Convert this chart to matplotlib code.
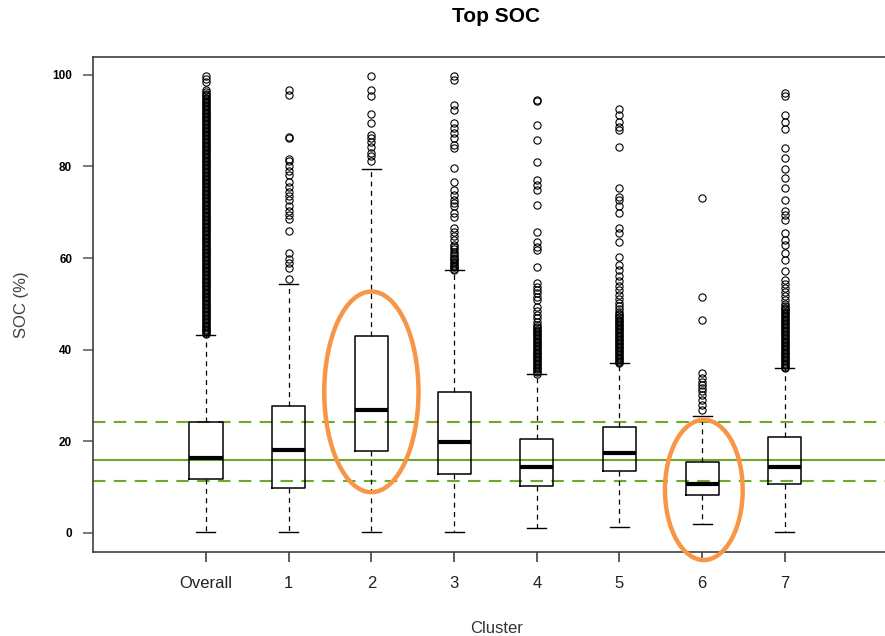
import numpy as np
import matplotlib
matplotlib.use("Agg")
import matplotlib.pyplot as plt
from matplotlib.patches import Ellipse

plt.rcParams['font.family'] = ['Liberation Sans', 'DejaVu Sans']

# ---- data ------------------------------------------------------------------
labels = ["Overall", "1", "2", "3", "4", "5", "6", "7"]
q1     = [11.7,  9.9, 17.8, 12.8, 10.3, 13.5,  8.3, 10.6]
med    = [16.4, 18.1, 26.9, 19.8, 14.3, 17.4, 10.8, 14.3]
q3     = [24.3, 27.8, 42.9, 30.7, 20.5, 23.1, 15.4, 20.9]
wlo    = [0.15, 0.15, 0.15, 0.15,  1.0,  1.4,  1.9, 0.15]
whi    = [43.2, 54.4, 79.5, 57.4, 34.8, 37.0, 25.6, 36.0]

# outliers (the solid black runs in the reference are thousands of points)
out_overall = [43.4, 43.7, 44.0, 44.3, 44.6, 44.9, 45.2, 45.5, 45.8, 46.1, 46.4, 46.7,
               47.0, 47.3, 47.6, 47.9, 48.2, 48.5, 48.8, 49.1, 49.4, 49.7, 50.0, 50.3,
               50.6, 50.9, 51.2, 51.5, 51.8, 52.1, 52.4, 52.7, 53.0, 53.3, 53.6, 53.9,
               54.2, 54.5, 54.8, 55.1, 55.4, 55.7, 56.0, 56.3, 56.6, 56.9, 57.2, 57.5,
               57.8, 58.1, 58.4, 58.7, 59.0, 59.3, 59.6, 59.9, 60.2, 60.5, 60.8, 61.1,
               61.4, 61.7, 62.0, 62.3, 62.6, 62.9, 63.2, 63.5, 63.8, 64.1, 64.4, 64.7,
               65.0, 65.3, 65.6, 65.9, 66.2, 66.5, 66.8, 67.1, 67.4, 67.7, 68.0, 68.3,
               68.6, 68.9, 69.2, 69.5, 69.8, 70.1, 70.4, 70.7, 71.0, 71.3, 71.6, 71.9,
               72.2, 72.5, 72.8, 73.1, 73.4, 73.7, 74.0, 74.3, 74.6, 74.9, 75.2, 75.5,
               75.8, 76.1, 76.4, 76.7, 77.0, 77.3, 77.6, 77.9, 78.2, 78.5, 78.8, 79.1,
               79.4, 79.7, 80.0, 80.3, 80.6, 80.9, 81.2, 81.5, 81.8, 82.1, 82.4, 82.7,
               83.0, 83.3, 83.6, 83.9, 84.2, 84.5, 84.8, 85.1, 85.4, 85.7, 86.0, 86.3,
               86.6, 86.9, 87.2, 87.5, 87.8, 88.1, 88.4, 88.7, 89.0, 89.3, 89.6, 89.9,
               90.2, 90.5, 90.8, 91.1, 91.4, 91.7, 92.0, 92.3, 92.6, 92.9, 93.2, 93.5,
               93.8, 94.1, 94.4, 94.7, 95.0, 95.3, 95.6, 95.9, 96.2, 96.7, 98.4, 99.1,
               99.8]
out_c1 = [55.5, 57.9, 59.0, 59.8, 61.2, 65.9, 68.5, 69.4, 70.2, 71.3, 72.7, 73.6,
          74.5, 75.6, 76.7, 78.2, 79.1, 80.0, 81.1, 81.7, 86.2, 86.5, 95.6, 96.7]
out_c2 = [81.1, 82.2, 82.9, 84.2, 85.4, 86.2, 86.9, 89.6, 91.4, 95.4, 96.7, 99.8]
out_c3 = [57.4, 57.7, 58.0, 58.3, 58.6, 58.9, 59.2, 59.5, 59.8, 60.1, 60.4, 60.9,
          61.4, 61.9, 62.4, 62.9, 64.0, 64.8, 65.6, 66.6, 69.0, 69.9, 71.3, 72.0,
          72.7, 73.8, 74.9, 76.7, 79.6, 84.0, 84.7, 86.2, 87.3, 88.4, 89.5, 92.4,
          93.4, 98.9, 99.8]
out_c4 = [34.8, 35.1, 35.4, 35.7, 36.0, 36.3, 36.6, 36.9, 37.2, 37.5, 37.8, 38.1,
          38.4, 38.7, 39.0, 39.3, 39.6, 39.9, 40.2, 40.5, 40.8, 41.1, 41.4, 41.7,
          42.0, 42.3, 42.6, 42.9, 43.2, 43.5, 43.8, 44.1, 44.4, 44.7, 45.0, 45.5,
          46.1, 46.9, 47.6, 48.5, 49.4, 50.9, 51.6, 52.4, 53.1, 53.8, 54.6, 58.1,
          61.8, 62.5, 63.6, 65.8, 71.6, 74.9, 76.0, 77.1, 80.9, 85.8, 89.1, 94.2,
          94.5]
out_c5 = [37.0, 37.3, 37.6, 37.9, 38.2, 38.5, 38.8, 39.1, 39.4, 39.7, 40.0, 40.3,
          40.6, 40.9, 41.2, 41.5, 41.8, 42.1, 42.4, 42.7, 43.0, 43.3, 43.6, 43.9,
          44.2, 44.5, 44.8, 45.1, 45.4, 45.7, 46.0, 46.3, 46.6, 46.9, 47.2, 47.5,
          47.8, 48.2, 48.8, 49.5, 50.3, 51.1, 52.0, 53.0, 54.0, 55.0, 56.1, 57.3,
          58.6, 60.3, 63.6, 65.4, 66.5, 69.8, 71.3, 72.7, 73.4, 75.3, 84.2, 88.0,
          88.7, 89.8, 91.3, 92.5]
out_c6 = [26.9, 27.9, 29.0, 30.1, 30.9, 31.6, 32.3, 33.0, 33.8, 34.9, 46.5, 51.5, 73.1]
out_c7 = [36.0, 36.3, 36.6, 36.9, 37.2, 37.5, 37.8, 38.1, 38.4, 38.7, 39.0, 39.3,
          39.6, 39.9, 40.2, 40.5, 40.8, 41.1, 41.4, 41.7, 42.0, 42.3, 42.6, 42.9,
          43.2, 43.5, 43.8, 44.1, 44.4, 44.7, 45.0, 45.3, 45.6, 45.9, 46.2, 46.5,
          46.8, 47.1, 47.4, 47.7, 48.0, 48.3, 48.6, 48.9, 49.2, 49.6, 50.0, 50.8,
          51.7, 52.6, 53.5, 54.4, 55.2, 57.1, 59.6, 61.1, 62.9, 64.0, 65.4, 68.3,
          69.4, 70.2, 72.7, 75.4, 77.4, 79.5, 81.8, 84.0, 88.1, 89.8, 91.3, 95.4,
          96.1]
outliers = [out_overall, out_c1, out_c2, out_c3, out_c4, out_c5, out_c6, out_c7]

ref_mean = 16.0
ref_hi = 24.2
ref_lo = 11.4

# ---- figure ------------------------------------------------------------------
fig = plt.figure(figsize=(8.85, 6.36), dpi=100)
# right edge of the plot box sits just outside the picture (cropped in the reference)
ax = fig.add_axes([93 / 885, 84 / 636, 807 / 885, 495 / 636])

stats = []
for i in range(len(labels)):
    stats.append(dict(label=labels[i], med=med[i], q1=q1[i], q3=q3[i],
                      whislo=wlo[i], whishi=whi[i], fliers=outliers[i]))

pos = np.arange(len(labels))
ax.bxp(stats, positions=pos, widths=0.4, showfliers=True, patch_artist=False,
       boxprops=dict(color='black', linewidth=1.1),
       medianprops=dict(color='black', linewidth=3.0, solid_capstyle='butt'),
       whiskerprops=dict(color='black', linewidth=0.9, linestyle=(0, (4, 3.5))),
       capprops=dict(color='black', linewidth=1.0),
       capwidths=0.23,
       flierprops=dict(marker='o', markerfacecolor='none', markeredgecolor='black',
                       markersize=5.2, markeredgewidth=0.8, linestyle='none'))

green = '#6FA82A'
ax.axhline(ref_mean, color=green, linewidth=1.5, zorder=1)
ax.axhline(ref_hi, color=green, linewidth=1.5, linestyle=(0, (6, 4)), zorder=1)
ax.axhline(ref_lo, color=green, linewidth=1.5, linestyle=(0, (6, 4)), zorder=1)

orange = '#F79646'
ax.add_patch(Ellipse((2, 30.8), 1.14, 43.8, fill=False, edgecolor=orange,
                     linewidth=3.2, zorder=5))
ax.add_patch(Ellipse((6.02, 9.4), 0.94, 30.6, fill=False, edgecolor=orange,
                     linewidth=3.2, zorder=5, clip_on=False))

ax.set_xlim(-1.366, 8.392)
ax.set_ylim(-4.15, 103.9)

ax.set_xticks(pos)
ax.set_xticklabels(labels, fontsize=12, color='#222222')
ax.set_yticks([0, 20, 40, 60, 80, 100])
ax.set_yticklabels(['0', '20', '40', '60', '80', '100'], fontsize=8.5,
                   fontweight='bold', color='black')
ax.tick_params(axis='x', length=7, width=1.1, color='#333333', pad=10)
ax.tick_params(axis='y', length=7, width=1.1, color='#555555', pad=8)

for s in ax.spines.values():
    s.set_color('#404040')
    s.set_linewidth(1.2)

ax.set_ylabel('SOC (%)', fontsize=12, color='#404040', labelpad=17)
ax.set_xlabel('Cluster', fontsize=12, color='#333333', labelpad=22)
fig.text(496 / 885, 1 - 16 / 636, 'Top SOC', ha='center', va='center',
         fontsize=15, fontweight='bold', color='black')

fig.savefig('out.png', dpi=100)
